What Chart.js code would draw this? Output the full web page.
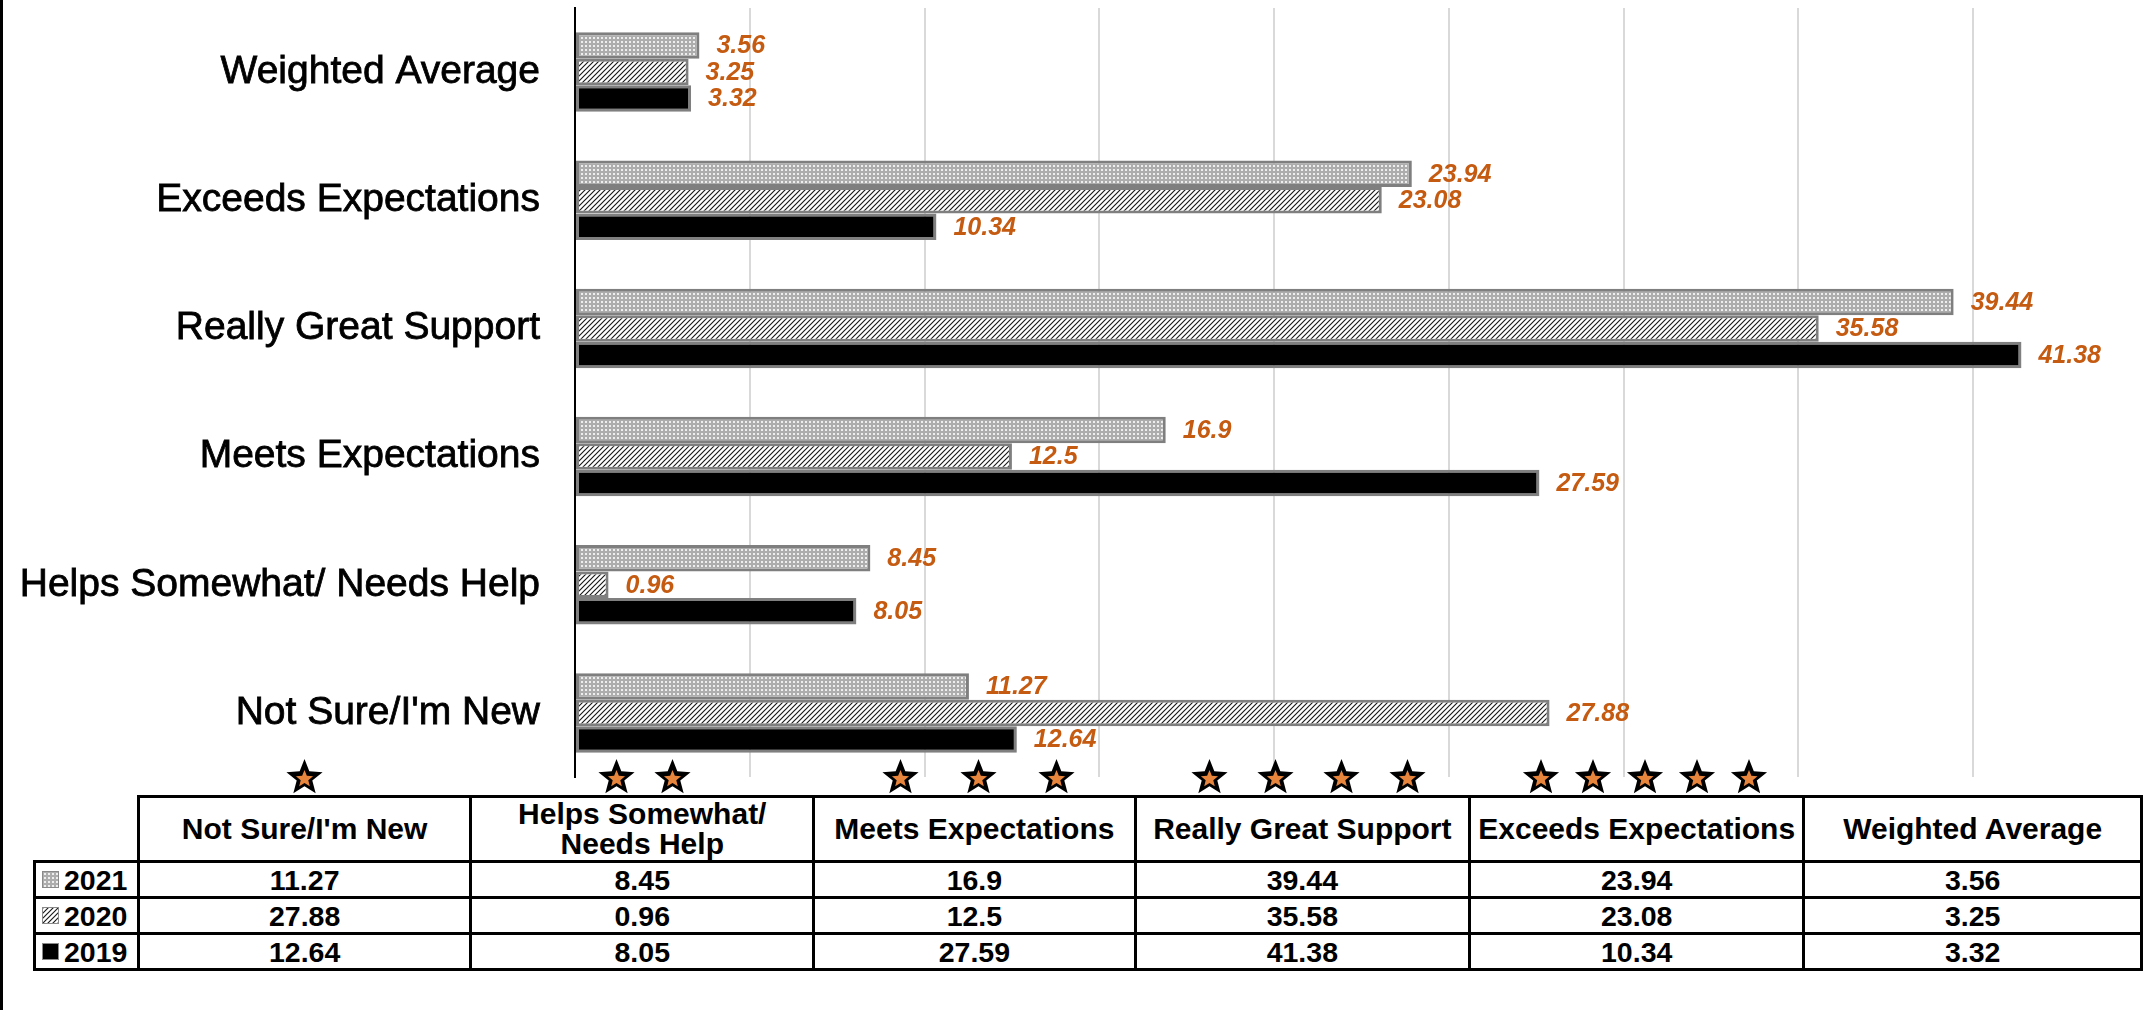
<!DOCTYPE html>
<html>
<head>
<meta charset="utf-8">
<script src="https://cdn.jsdelivr.net/npm/chart.js@4.4.1/dist/chart.umd.min.js"></script>
<style>
  html, body { margin:0; padding:0; background:#fff; overflow:hidden; width:2143px; height:1010px; }
  #wrap { position:relative; width:2143px; height:1010px; overflow:hidden; background:#fff; }
  #frame { position:absolute; left:0; top:0; width:3px; height:1010px; background:#000; z-index:3; }
  #chartCanvas { position:absolute; left:0; top:0; z-index:2; }
  #tbl { position:absolute; left:33px; top:795px; border-collapse:collapse; table-layout:fixed;
         font-family:'Liberation Sans', Arial, sans-serif; font-weight:bold; color:#000; z-index:1; }
  #tbl td { border:3px solid #000; padding:0; text-align:center; vertical-align:middle; font-size:28.5px; line-height:28px; overflow:hidden; }
  #tbl tr.head td { font-size:30px; line-height:30px; padding:0 2px; }
  #tbl tr.head td.corner { border-top:none; border-left:none; padding:0; }
  #tbl td.legend { text-align:left; padding-left:6px; white-space:nowrap; }
  .sw { display:inline-block; width:15px; height:15px; border:1px solid #8a8a8a; vertical-align:middle; margin-right:5px; position:relative; top:-2px; }
</style>
</head>
<body>
<div id="wrap">
  <div id="frame"></div>
  <canvas id="chartCanvas" width="2148" height="800"></canvas>
  <table id="tbl"></table>
</div>
<script>
// ---------- data ----------
const categories = ["Not Sure/I'm New", "Helps Somewhat/ Needs Help", "Meets Expectations", "Really Great Support", "Exceeds Expectations", "Weighted Average"];
const years = ["2021", "2020", "2019"];
const values2021 = [11.27, 8.45, 16.9, 39.44, 23.94, 3.56];
const values2020 = [27.88, 0.96, 12.5, 35.58, 23.08, 3.25];
const values2019 = [12.64, 8.05, 27.59, 41.38, 10.34, 3.32];
const starCounts = [1, 2, 3, 4, 5, 0];
const xMin = 0, xMax = 45, xStep = 5;

// ---------- layout constants ----------
const TABLE_HEAD_LEFT = 137;
const COL_W = [335, 345, 323, 337, 336, 340];
const LEGEND_W = 104;
const HEAD_H = 65, ROW_H = 36;
const STAR_Y = 778;
const STAR_GAP = {1: 0, 2: 56, 3: 78, 4: 66, 5: 52};

// ---------- patterns ----------
function makeTile(kind) {
  const c = document.createElement('canvas');
  const g = c.getContext('2d');
  if (kind === 'dots') {
    c.width = 4; c.height = 4;
    g.fillStyle = '#adadad'; g.fillRect(0, 0, 4, 4);
    g.fillStyle = '#eeeeee'; g.fillRect(1, 1, 2, 2);
  } else if (kind === 'hatch') {
    c.width = 5; c.height = 5;
    g.fillStyle = '#ffffff'; g.fillRect(0, 0, 5, 5);
    g.strokeStyle = '#1a1a1a'; g.lineWidth = 1.15;
    g.beginPath();
    g.moveTo(-1, 6); g.lineTo(6, -1);
    g.moveTo(-3, 3); g.lineTo(3, -3);
    g.moveTo(2, 8); g.lineTo(8, 2);
    g.stroke();
  } else {
    c.width = 4; c.height = 4;
    g.fillStyle = '#000'; g.fillRect(0, 0, 4, 4);
  }
  return c;
}
const tiles = { '2021': makeTile('dots'), '2020': makeTile('hatch'), '2019': makeTile('solid') };
const ctx = document.getElementById('chartCanvas').getContext('2d');
const fills = {
  '2021': ctx.createPattern(tiles['2021'], 'repeat'),
  '2020': ctx.createPattern(tiles['2020'], 'repeat'),
  '2019': '#000000'
};
const seriesValues = { '2021': values2021, '2020': values2020, '2019': values2019 };

// chart draws categories top-down (Weighted Average at top)
const labelsTopDown = categories.slice().reverse();

const datasets = years.map(y => ({
  label: y,
  data: seriesValues[y].slice().reverse(),
  backgroundColor: fills[y],
  borderColor: '#7f7f7f',
  borderWidth: 3,
  borderSkipped: false,
  categoryPercentage: 0.62,
  barPercentage: 1.0
}));

const valueLabels = {
  id: 'valueLabels',
  afterDatasetsDraw(chart) {
    const c = chart.ctx;
    c.save();
    c.font = "italic bold 25px 'Liberation Sans', Arial, sans-serif";
    c.fillStyle = '#c55a11';
    c.textBaseline = 'middle';
    c.textAlign = 'left';
    chart.data.datasets.forEach((d, i) => {
      chart.getDatasetMeta(i).data.forEach((bar, j) => {
        c.fillText(String(d.data[j]), bar.x + 17, bar.y + 1);
      });
    });
    c.restore();
  }
};

function drawStar(c, cx, cy, R, r, fill) {
  c.beginPath();
  for (let k = 0; k < 10; k++) {
    const a = -Math.PI / 2 + k * Math.PI / 5;
    const rad = (k % 2 === 0) ? R : r;
    const px = cx + rad * Math.cos(a), py = cy + rad * Math.sin(a);
    if (k === 0) c.moveTo(px, py); else c.lineTo(px, py);
  }
  c.closePath();
  c.fillStyle = fill;
  c.fill();
}

const stars = {
  id: 'stars',
  afterDraw(chart) {
    const c = chart.ctx;
    c.save();
    let left = TABLE_HEAD_LEFT;
    categories.forEach((cat, i) => {
      const center = left + COL_W[i] / 2;
      const n = starCounts[i];
      const gap = STAR_GAP[n] || 0;
      for (let k = 0; k < n; k++) {
        const cx = center + (k - (n - 1) / 2) * gap;
        drawStar(c, cx, STAR_Y, 19, 8.2, '#000');
        drawStar(c, cx, STAR_Y + 1, 9, 4, '#e8853d');
      }
      left += COL_W[i];
    });
    c.restore();
  }
};

new Chart(ctx, {
  type: 'bar',
  data: { labels: labelsTopDown, datasets },
  options: {
    indexAxis: 'y',
    responsive: false,
    animation: false,
    devicePixelRatio: 1,
    layout: { padding: { top: 8, bottom: 23, left: 0, right: 0 } },
    plugins: { legend: { display: false }, tooltip: { enabled: false } },
    scales: {
      x: {
        min: xMin, max: xMax,
        ticks: { display: false, stepSize: xStep },
        grid: { color: '#d9d9d9', lineWidth: 2, drawTicks: false },
        border: { display: false },
        afterFit(s) { s.height = 0; s.paddingLeft = 0; s.paddingRight = 0; }
      },
      y: {
        ticks: { color: '#000', font: { family: "'Liberation Sans', Arial, sans-serif", size: 39 }, padding: 35,
                 textStrokeColor: '#000', textStrokeWidth: 0.8 },
        grid: { display: false, drawTicks: false },
        border: { color: '#000', width: 2 },
        afterFit(s) { s.width = 575; s.paddingTop = 0; s.paddingBottom = 0; }
      }
    }
  },
  plugins: [valueLabels, stars]
});

// ---------- table ----------
const tbl = document.getElementById('tbl');
const cg = document.createElement('colgroup');
[LEGEND_W].concat(COL_W).forEach(w => {
  const col = document.createElement('col'); col.style.width = w + 'px'; cg.appendChild(col);
});
tbl.appendChild(cg);
const head = document.createElement('tr');
head.className = 'head';
head.style.height = HEAD_H + 'px';
const corner = document.createElement('td'); corner.className = 'corner'; head.appendChild(corner);
categories.forEach(cat => {
  const td = document.createElement('td');
  td.textContent = cat;
  head.appendChild(td);
});
tbl.appendChild(head);
years.forEach(y => {
  const tr = document.createElement('tr');
  tr.style.height = ROW_H + 'px';
  const lg = document.createElement('td');
  lg.className = 'legend';
  const sw = document.createElement('span');
  sw.className = 'sw';
  sw.style.backgroundImage = 'url(' + tiles[y].toDataURL() + ')';
  lg.appendChild(sw);
  lg.appendChild(document.createTextNode(y));
  tr.appendChild(lg);
  seriesValues[y].forEach(v => {
    const td = document.createElement('td');
    td.textContent = String(v);
    tr.appendChild(td);
  });
  tbl.appendChild(tr);
});
</script>
</body>
</html>
